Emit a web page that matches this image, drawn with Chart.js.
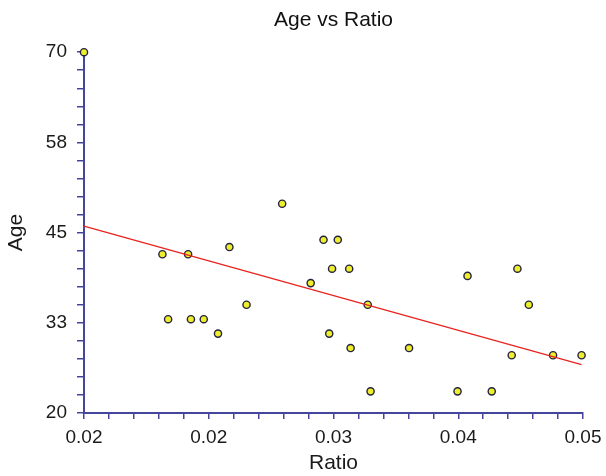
<!DOCTYPE html>
<html>
<head>
<meta charset="utf-8">
<style>
  html, body { margin: 0; padding: 0; background: #fff; }
  #contenedor { width: 606px; height: 476px; }
</style>
<script src="https://cdn.jsdelivr.net/npm/chart.js@4/dist/chart.umd.min.js"></script>
</head>
<body>
<div id="contenedor"><canvas id="grafico"></canvas></div>
<script>
// datos
const ratio = [0.0150, 0.0205, 0.0223, 0.0252, 0.0264, 0.0209, 0.0225, 0.0234, 0.0244,
  0.0289, 0.0318, 0.0328, 0.0324, 0.0336, 0.0309, 0.0349, 0.0322, 0.0337, 0.0378,
  0.0351, 0.0419, 0.0412, 0.0436, 0.0454, 0.0462, 0.0450, 0.0479, 0.0499];
const age = [70, 42, 42, 43, 35, 33, 33, 33, 31,
  49, 44, 44, 40, 40, 38, 35, 31, 29, 29,
  23, 39, 23, 23, 40, 35, 28, 28, 28];

// recta de regresion (extremos)
const rectaRatio = [0.0150, 0.0499];
const rectaAge = [45.9, 26.7];

const xTickLabels = ["0.02", "0.02", "0.03", "0.04", "0.05"];
const yTickLabels = ["20", "33", "45", "58", "70"];
const xMin = 0.015, xMax = 0.05;
const yMin = 20, yMax = 70;
const subdiv = 5;

const colorEje = "#45459c";
const fuente = "'Liberation Sans', Arial, Helvetica, sans-serif";

function ticksConMenores(min, max, nMayores) {
  const n = (nMayores - 1) * subdiv;
  const ticks = [];
  for (let i = 0; i <= n; i++) {
    ticks.push({ value: min + (max - min) * i / n });
  }
  return ticks;
}

const puntos = ratio.map((r, i) => ({ x: r, y: age[i] }));
const recta = rectaRatio.map((r, i) => ({ x: r, y: rectaAge[i] }));

const config = {
  type: "scatter",
  data: {
    datasets: [
      {
        label: "Regresion",
        data: recta,
        showLine: true,
        borderColor: "#e8231f",
        borderWidth: 1.3,
        pointRadius: 0,
        clip: false,
        order: 0,
      },
      {
        label: "Age",
        data: puntos,
        pointRadius: 3.6,
        pointBackgroundColor: "#eeee2c",
        pointBorderColor: "#23233f",
        pointBorderWidth: 1.4,
        clip: false,
        order: 1,
      },
    ],
  },
  options: {
    responsive: true,
    maintainAspectRatio: false,
    animation: false,
    layout: { padding: { left: 0, right: 23, top: 0, bottom: 0 } },
    plugins: {
      legend: { display: false },
      tooltip: { enabled: false },
      title: {
        display: true,
        text: "Age vs Ratio",
        fullSize: false,
        color: "#111",
        font: { family: fuente, size: 21, weight: "normal" },
        padding: { top: 8, bottom: 19 },
      },
    },
    scales: {
      x: {
        type: "linear",
        min: xMin,
        max: xMax,
        afterBuildTicks: (s) => { s.ticks = ticksConMenores(xMin, xMax, xTickLabels.length); },
        afterFit: (s) => {
          s.height = 63;
          s.paddingLeft = 0;
          s.paddingRight = 0;
        },
        grid: {
          drawOnChartArea: false,
          drawTicks: true,
          tickLength: 6,
          color: colorEje,
          lineWidth: 1.5,
        },
        border: { display: true, color: colorEje, width: 2 },
        ticks: {
          autoSkip: false,
          maxRotation: 0,
          padding: 7,
          color: "#1a1a1a",
          font: { family: fuente, size: 19 },
          callback: (v, i) => (i % subdiv === 0 ? xTickLabels[i / subdiv] : ""),
        },
        title: {
          display: true,
          text: "Ratio",
          color: "#1a1a1a",
          font: { family: fuente, size: 21 },
          padding: { top: 0, bottom: 0 },
        },
      },
      y: {
        type: "linear",
        min: yMin,
        max: yMax,
        afterBuildTicks: (s) => { s.ticks = ticksConMenores(yMin, yMax, yTickLabels.length); },
        afterFit: (s) => { s.width = 84; },
        grid: {
          drawOnChartArea: false,
          drawTicks: true,
          tickLength: 7,
          color: colorEje,
          lineWidth: 1.5,
        },
        border: { display: true, color: colorEje, width: 2 },
        ticks: {
          autoSkip: false,
          padding: 10,
          color: "#1a1a1a",
          font: { family: fuente, size: 19 },
          callback: (v, i) => (i % subdiv === 0 ? yTickLabels[i / subdiv] : ""),
        },
        title: {
          display: true,
          text: "Age",
          color: "#1a1a1a",
          font: { family: fuente, size: 21 },
          padding: { top: 4, bottom: 0 },
        },
      },
    },
  },
};

new Chart(document.getElementById("grafico"), config);
</script>
</body>
</html>
